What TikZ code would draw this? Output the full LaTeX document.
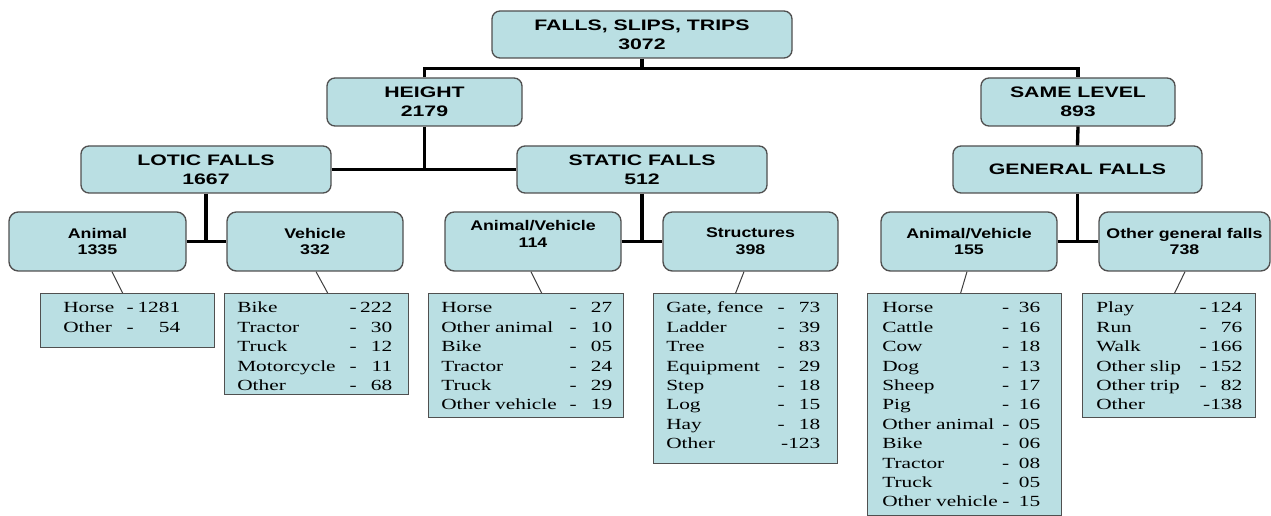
\documentclass[tikz,border=0pt]{standalone}
\usepackage{fontspec}
\setmainfont{Liberation Serif}
\newfontfamily\hdfont[FakeStretch=1.4]{Liberation Sans}
\newfontfamily\hbfont[FakeStretch=1.27]{Liberation Sans}
\newfontfamily\detfont[FakeStretch=1.38]{Liberation Serif}
\usetikzlibrary{calc}
\newdimen\pxu \pxu=0.75pt
\definecolor{boxfill}{RGB}{186,223,227}
\definecolor{boxline}{RGB}{80,80,80}
\newcommand\nv[2][2.3em]{-\makebox[#1][r]{#2}}
\begin{document}
\begin{tikzpicture}[x=0.75pt,y=-0.75pt,
  bigbox/.style={draw=boxline, fill=boxfill, line width=1pt, rounded corners=6pt, align=center, inner sep=0pt,
    font={\hdfont\bfseries\fontsize{11.4pt}{14.25pt}\selectfont}},
  smallbox/.style={draw=boxline, fill=boxfill, line width=1pt, rounded corners=7pt, align=center, inner sep=0pt,
    minimum height=59\pxu, font={\hbfont\bfseries\fontsize{10.5pt}{12.5pt}\selectfont}},
  smalltext/.style={align=center, inner sep=0pt, font={\hbfont\bfseries\fontsize{10.5pt}{12.5pt}\selectfont}},
  dbox/.style={draw=boxline, fill=boxfill, line width=1pt, inner sep=0pt, anchor=north west},
  dtext/.style={inner sep=0pt, anchor=north west, font={\detfont\fontsize{11.6pt}{14.55pt}\selectfont}},
  tree/.style={line width=2.5pt, black},
  leader/.style={line width=0.75pt, draw=black!75}]
\useasboundingbox[fill=white] (0,0) rectangle (1271,516);

% upper levels
\node[bigbox, minimum width=300\pxu, minimum height=47\pxu] (top) at (642,34.5) {FALLS, SLIPS, TRIPS\\3072};
\node[bigbox, minimum width=195\pxu, minimum height=48\pxu] (height) at (424.5,102) {HEIGHT\\2179};
\node[bigbox, minimum width=194\pxu, minimum height=48\pxu] (same) at (1078,102) {SAME LEVEL\\893};
\node[bigbox, minimum width=250\pxu, minimum height=47\pxu] (lotic) at (206,169.5) {LOTIC FALLS\\1667};
\node[bigbox, minimum width=250\pxu, minimum height=47\pxu] (static) at (642,169.5) {STATIC FALLS\\512};
\node[bigbox, minimum width=249\pxu, minimum height=47\pxu] (general) at (1077.5,169.5) {GENERAL FALLS};

% small header boxes
\node[smallbox, minimum width=177\pxu] (animal) at (97.5,241.5) {Animal\\1335};
\node[smallbox, minimum width=176\pxu] (vehicle) at (315,241.5) {Vehicle\\332};
\node[smallbox, minimum width=176\pxu] (sav) at (533,241.5) {};
\node[smalltext] (savt) at (533,234) {Animal/Vehicle\\114};
\node[smallbox, minimum width=175\pxu] (struct) at (750.5,241.5) {Structures\\398};
\node[smallbox, minimum width=176\pxu] (gav) at (969,241.5) {Animal/Vehicle\\155};
\node[smallbox, minimum width=171\pxu] (ogf) at (1184.5,241.5) {Other general falls\\738};

% tree connectors
\draw[tree] (height.north) |- ($(top.south)+(0,10)$) -| (same.north);
\draw[tree] (top.south) -- ++(0,10);
\draw[tree] (lotic.east) -- (static.west);
\draw[tree] (height.south) -- (height.south |- lotic.east);
\draw[tree] (same.south) -- (general.north);
\draw[tree] (animal.east) -- (vehicle.west);
\draw[tree] (lotic.south) -- (lotic.south |- animal.east);
\draw[tree] (sav.east) -- (struct.west);
\draw[tree] (static.south) -- (static.south |- sav.east);
\draw[tree] (gav.east) -- (ogf.west);
\draw[tree] (general.south) -- (general.south |- gav.east);

% detail boxes
\node[dbox, minimum width=174\pxu, minimum height=54\pxu] (d1) at (40,293) {};
\node[dtext] (d1t) at ($(d1.north west)+(23,6)$) {\begin{tabular*}{117\pxu}{@{}l@{\extracolsep{\fill}}r@{}}
Horse & \nv[3em]{1281}\\
Other & \nv[3em]{54}
\end{tabular*}};

\node[dbox, minimum width=184\pxu, minimum height=101\pxu] (d2) at (224,293) {};
\node[dtext] (d2t) at ($(d2.north west)+(13,6)$) {\begin{tabular*}{155\pxu}{@{}l@{\extracolsep{\fill}}r@{}}
Bike & \nv{222}\\
Tractor & \nv{30}\\
Truck & \nv{12}\\
Motorcycle & \nv{11}\\
Other & \nv{68}
\end{tabular*}};

\node[dbox, minimum width=195\pxu, minimum height=124\pxu] (d3) at (428,293) {};
\node[dtext] (d3t) at ($(d3.north west)+(13,6)$) {\begin{tabular*}{171\pxu}{@{}l@{\extracolsep{\fill}}r@{}}
Horse & \nv{27}\\
Other animal & \nv{10}\\
Bike & \nv{05}\\
Tractor & \nv{24}\\
Truck & \nv{29}\\
Other vehicle & \nv{19}
\end{tabular*}};

\node[dbox, minimum width=184\pxu, minimum height=170\pxu] (d4) at (653,293) {};
\node[dtext] (d4t) at ($(d4.north west)+(13,6)$) {\begin{tabular*}{154\pxu}{@{}l@{\extracolsep{\fill}}r@{}}
Gate, fence & \nv{73}\\
Ladder & \nv{39}\\
Tree & \nv{83}\\
Equipment & \nv{29}\\
Step & \nv{18}\\
Log & \nv{15}\\
Hay & \nv{18}\\
Other & -123
\end{tabular*}};

\node[dbox, minimum width=194\pxu, minimum height=222\pxu] (d5) at (867,293) {};
\node[dtext] (d5t) at ($(d5.north west)+(15,6)$) {\begin{tabular*}{158\pxu}{@{}l@{\extracolsep{\fill}}r@{}}
Horse & \nv[2em]{36}\\
Cattle & \nv[2em]{16}\\
Cow & \nv[2em]{18}\\
Dog & \nv[2em]{13}\\
Sheep & \nv[2em]{17}\\
Pig & \nv[2em]{16}\\
Other animal & \nv[2em]{05}\\
Bike & \nv[2em]{06}\\
Tractor & \nv[2em]{08}\\
Truck & \nv[2em]{05}\\
Other vehicle & \nv[2em]{15}
\end{tabular*}};

\node[dbox, minimum width=173\pxu, minimum height=124\pxu] (d6) at (1082,293) {};
\node[dtext] (d6t) at ($(d6.north west)+(14,6)$) {\begin{tabular*}{146\pxu}{@{}l@{\extracolsep{\fill}}r@{}}
Play & \nv{124}\\
Run & \nv{76}\\
Walk & \nv{166}\\
Other slip & \nv{152}\\
Other trip & \nv{82}\\
Other & -138
\end{tabular*}};

% leaders
\draw[leader] ($(animal.south)+(14.5,0)$) -- ($(d1.north)+(-5,0)$);
\draw[leader] ($(vehicle.south)+(1,0)$) -- ($(d2.north)+(11,0)$);
\draw[leader] ($(sav.south)+(-2,0)$) -- ($(d3.north)+(15.5,0)$);
\draw[leader] ($(struct.south)+(-6.5,0)$) -- ($(d4.north)+(-10,0)$);
\draw[leader] ($(gav.south)+(-2,0)$) -- ($(d5.north)+(-4,0)$);
\draw[leader] ($(ogf.south)+(0.5,0)$) -- ($(d6.north)+(5.5,0)$);
\end{tikzpicture}
\end{document}
